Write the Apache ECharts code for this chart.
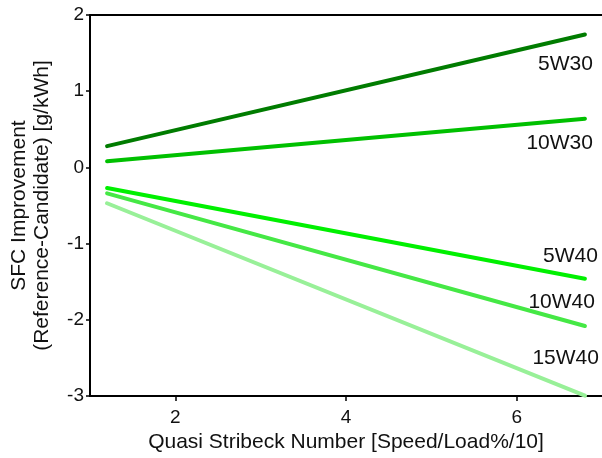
<!DOCTYPE html>
<html>
<head>
<meta charset="utf-8">
<script src="https://cdn.jsdelivr.net/npm/echarts@6/dist/echarts.min.js"></script>
<style>
  html, body { margin: 0; padding: 0; background: #ffffff; }
  #chart { width: 602px; height: 458px; }
</style>
</head>
<body>
<div id="chart"></div>
<script>
// Quasi Stribeck number range covered by each fitted line
const stribeckRange = [1.2, 6.8];

// SFC improvement (reference - candidate) at the two ends of each line, g/kWh
const oilNames = ['5W30', '10W30', '5W40', '10W40', '15W40'];
const sfc5W30  = [0.28, 1.745];
const sfc10W30 = [0.08, 0.64];
const sfc5W40  = [-0.27, -1.46];
const sfc10W40 = [-0.34, -2.08];
const sfc15W40 = [-0.47, -2.995];

const xTicks = [2, 4, 6];

const oilValues = [sfc5W30, sfc10W30, sfc5W40, sfc10W40, sfc15W40];
const oilColors = ['#007c00', '#00c000', '#00f000', '#45e845', '#98f098'];
// label placement next to the right end of each line
const labelOffsets = [[8, 30], [8, 25], [13, -23], [10, -24], [14, -38]];

const FONT = '"Liberation Sans", Arial, sans-serif';

const series = oilNames.map((name, i) => ({
  name: name,
  type: 'line',
  symbol: 'circle',
  symbolSize: 0,
  showSymbol: true,
  silent: true,
  lineStyle: { color: oilColors[i], width: 4, cap: 'round' },
  itemStyle: { color: oilColors[i] },
  data: [
    [stribeckRange[0], oilValues[i][0]],
    {
      value: [stribeckRange[1], oilValues[i][1]],
      label: {
        show: true,
        formatter: name,
        position: 'left',
        distance: 0,
        offset: labelOffsets[i],
        color: '#111111',
        fontFamily: FONT,
        fontSize: 21
      }
    }
  ],
  z: 3
}));

const chart = echarts.init(document.getElementById('chart'), null, { renderer: 'canvas' });
chart.setOption({
  animation: false,
  backgroundColor: '#ffffff',
  grid: { left: 89, top: 15, width: 522, height: 387, containLabel: false },
  xAxis: [
    {
      type: 'value',
      min: 1,
      max: 7,
      name: 'Quasi Stribeck Number [Speed/Load%/10]',
      nameLocation: 'middle',
      nameGap: 34,
      nameTextStyle: { fontFamily: FONT, fontSize: 21, color: '#111111' },
      axisLine: { show: true, onZero: false, lineStyle: { color: '#000000', width: 2 } },
      axisTick: { show: true, length: 5, customValues: xTicks, lineStyle: { color: '#000000', width: 1.5 } },
      axisLabel: { customValues: xTicks, margin: 12, fontFamily: FONT, fontSize: 19, color: '#111111' },
      splitLine: { show: false }
    },
    {
      type: 'value',
      position: 'top',
      min: 1,
      max: 7,
      axisLine: { show: true, onZero: false, lineStyle: { color: '#000000', width: 2 } },
      axisTick: { show: false },
      axisLabel: { show: false },
      splitLine: { show: false }
    }
  ],
  yAxis: {
    type: 'value',
    min: -3,
    max: 2,
    interval: 1,
    name: 'SFC Improvement\n(Reference-Candidate) [g/kWh]',
    nameLocation: 'middle',
    nameGap: 36,
    nameTextStyle: { fontFamily: FONT, fontSize: 21, lineHeight: 23, color: '#111111' },
    axisLine: { show: true, onZero: false, lineStyle: { color: '#000000', width: 2 } },
    axisTick: { show: true, length: 4, lineStyle: { color: '#000000', width: 1.5 } },
    axisLabel: { margin: 6, fontFamily: FONT, fontSize: 19, color: '#111111' },
    splitLine: { show: false }
  },
  series: series
});
</script>
</body>
</html>
